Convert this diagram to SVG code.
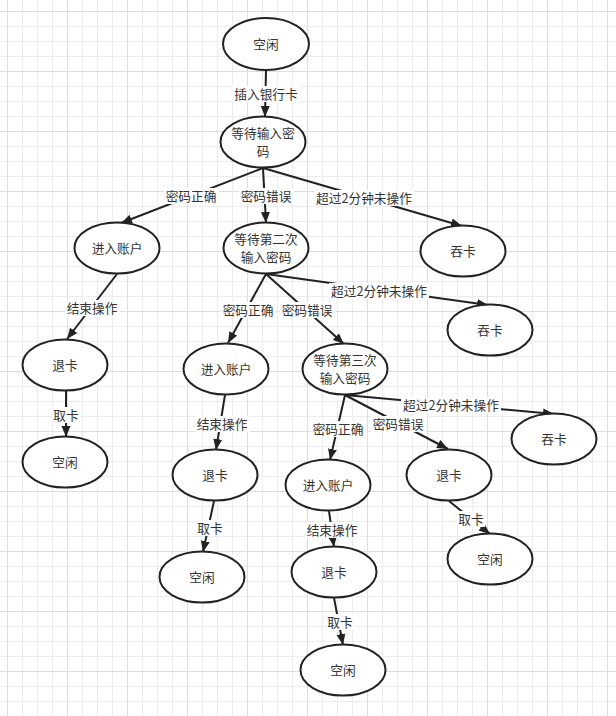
<svg xmlns="http://www.w3.org/2000/svg" width="616" height="716" viewBox="0 0 616 716">
<defs>
<pattern id="minor" patternUnits="userSpaceOnUse" x="7" y="11" width="15" height="15">
<rect x="0" y="0" width="1" height="15" fill="#ececec"/>
<rect x="0" y="0" width="15" height="1" fill="#ececec"/>
</pattern>
<pattern id="major" patternUnits="userSpaceOnUse" x="7" y="11" width="60" height="60">
<rect x="0" y="0" width="1" height="60" fill="#dedede"/>
<rect x="0" y="0" width="60" height="1" fill="#dedede"/>
</pattern>
<marker id="arr" markerUnits="userSpaceOnUse" markerWidth="12" markerHeight="10" refX="11" refY="5" orient="auto">
<path d="M0,0.5 L11,5 L0,9.5 Z" fill="#222"/>
</marker>
</defs>
<style>
.n ellipse{fill:#fff;stroke:#222;stroke-width:2}
text{font-family:"Noto Sans CJK SC","Liberation Sans",sans-serif;font-size:12.7px;fill:#333;text-anchor:middle}
.e line{stroke:#222;stroke-width:2;fill:none;marker-end:url(#arr)}
.e rect{fill:#fff}
</style>
<rect width="616" height="716" fill="#fff"/>
<rect width="616" height="716" fill="url(#minor)"/>
<rect width="616" height="716" fill="url(#major)"/>

<g id="connectors">
<g class="e"><line x1="266" y1="70" x2="265" y2="117"/><rect x="232" y="86" width="68" height="16"/><text x="266" y="98.5">插入银行卡</text></g>
<g class="e"><line x1="263" y1="168" x2="121" y2="223"/><rect x="164" y="188" width="55" height="16"/><text x="191" y="200.5">密码正确</text></g>
<g class="e"><line x1="263" y1="168" x2="266" y2="223"/><rect x="239" y="188" width="55" height="16"/><text x="266" y="200.5">密码错误</text></g>
<g class="e"><line x1="263" y1="168" x2="462" y2="226"/><rect x="314" y="190" width="100" height="16"/><text x="364" y="202.5">超过2分钟未操作</text></g>
<g class="e"><line x1="117" y1="274" x2="67" y2="339"/><rect x="65" y="300" width="55" height="16"/><text x="92" y="312.5">结束操作</text></g>
<g class="e"><line x1="66" y1="390" x2="66" y2="437"/><rect x="52" y="407" width="28" height="16"/><text x="66" y="419.5">取卡</text></g>
<g class="e"><line x1="266" y1="274" x2="228" y2="343"/><rect x="221" y="302" width="55" height="16"/><text x="248" y="314.5">密码正确</text></g>
<g class="e"><line x1="266" y1="274" x2="344" y2="344"/><rect x="280" y="302" width="55" height="16"/><text x="307" y="314.5">密码错误</text></g>
<g class="e"><line x1="266" y1="274" x2="488" y2="305"/><rect x="329" y="283" width="100" height="16"/><text x="379" y="295.5">超过2分钟未操作</text></g>
<g class="e"><line x1="225" y1="395" x2="216" y2="450"/><rect x="195" y="416" width="55" height="16"/><text x="222" y="428.5">结束操作</text></g>
<g class="e"><line x1="214" y1="501" x2="203" y2="552"/><rect x="196" y="520" width="28" height="16"/><text x="210" y="532.5">取卡</text></g>
<g class="e"><line x1="345" y1="395" x2="330" y2="460"/><rect x="311" y="421" width="55" height="16"/><text x="338" y="433.5">密码正确</text></g>
<g class="e"><line x1="345" y1="395" x2="448" y2="449"/><rect x="371" y="416" width="55" height="16"/><text x="398" y="428.5">密码错误</text></g>
<g class="e"><line x1="345" y1="395" x2="554" y2="414"/><rect x="401" y="397" width="100" height="16"/><text x="451" y="409.5">超过2分钟未操作</text></g>
<g class="e"><line x1="329" y1="511" x2="334" y2="547"/><rect x="305" y="522" width="55" height="16"/><text x="332" y="534.5">结束操作</text></g>
<g class="e"><line x1="334" y1="598" x2="343" y2="645"/><rect x="326" y="614" width="28" height="16"/><text x="340" y="626.5">取卡</text></g>
<g class="e"><line x1="449" y1="501" x2="490" y2="534"/><rect x="457" y="511" width="28" height="16"/><text x="471" y="523.5">取卡</text></g>
</g>

<g id="idle1" class="n"><ellipse cx="266" cy="44" rx="43" ry="26"/><text x="266" y="48.5">空闲</text></g>
<g id="waitpin1" class="n"><ellipse cx="263" cy="142" rx="42.5" ry="25.5"/><text x="263" y="138">等待输入密<tspan x="263" dy="18">码</tspan></text></g>
<g id="account1" class="n"><ellipse cx="117" cy="248" rx="42.5" ry="25.5"/><text x="117" y="252.5">进入账户</text></g>
<g id="waitpin2" class="n"><ellipse cx="266" cy="248" rx="42.5" ry="25.5"/><text x="266" y="244">等待第二次<tspan x="266" dy="18.2">输入密码</tspan></text></g>
<g id="swallow1" class="n"><ellipse cx="463" cy="251" rx="42.5" ry="25.5"/><text x="463" y="255.5">吞卡</text></g>
<g id="swallow2" class="n"><ellipse cx="490" cy="330" rx="42.5" ry="25.5"/><text x="490" y="334.5">吞卡</text></g>
<g id="eject1" class="n"><ellipse cx="65" cy="365" rx="42.5" ry="25.5"/><text x="65" y="369.5">退卡</text></g>
<g id="account2" class="n"><ellipse cx="226" cy="369" rx="42.5" ry="25.5"/><text x="226" y="373.5">进入账户</text></g>
<g id="waitpin3" class="n"><ellipse cx="345" cy="369" rx="42.5" ry="25.5"/><text x="345" y="365">等待第三次<tspan x="345" dy="18.2">输入密码</tspan></text></g>
<g id="swallow3" class="n"><ellipse cx="554" cy="439" rx="42.5" ry="25.5"/><text x="554" y="443.5">吞卡</text></g>
<g id="idle2" class="n"><ellipse cx="65" cy="462" rx="42.5" ry="25.5"/><text x="65" y="466.5">空闲</text></g>
<g id="eject2" class="n"><ellipse cx="215" cy="475" rx="42.5" ry="25.5"/><text x="215" y="479.5">退卡</text></g>
<g id="account3" class="n"><ellipse cx="328" cy="485" rx="42.5" ry="25.5"/><text x="328" y="489.5">进入账户</text></g>
<g id="eject3" class="n"><ellipse cx="449" cy="475" rx="42.5" ry="25.5"/><text x="449" y="479.5">退卡</text></g>
<g id="idle3" class="n"><ellipse cx="202" cy="577" rx="42.5" ry="25.5"/><text x="202" y="581.5">空闲</text></g>
<g id="eject4" class="n"><ellipse cx="334" cy="572" rx="42.5" ry="25.5"/><text x="334" y="576.5">退卡</text></g>
<g id="idle4" class="n"><ellipse cx="490" cy="559" rx="42.5" ry="25.5"/><text x="490" y="563.5">空闲</text></g>
<g id="idle5" class="n"><ellipse cx="343" cy="670" rx="42.5" ry="25.5"/><text x="343" y="674.5">空闲</text></g>
</svg>
